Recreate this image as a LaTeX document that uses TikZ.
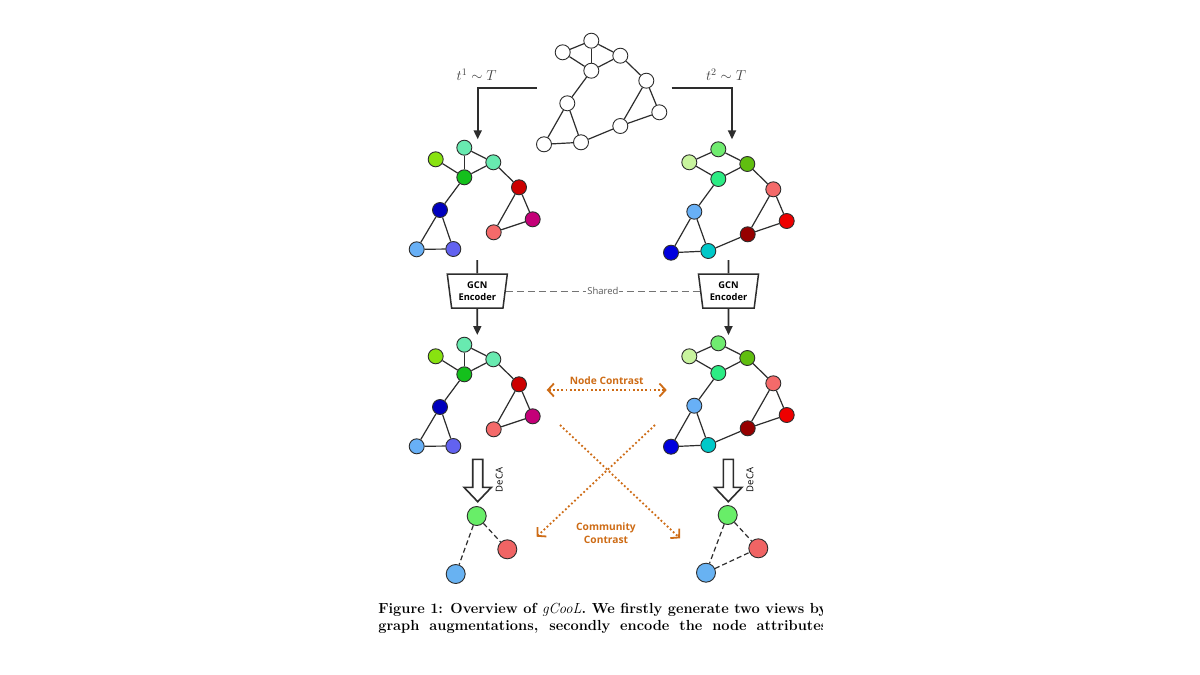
\documentclass[tikz,border=0pt]{standalone}
\usepackage{fontspec}
\setsansfont{Open Sans}
\usetikzlibrary{arrows.meta,shapes.geometric}

% node colours of the two views
\definecolor{ygreen}{RGB}{136,226,16}
\definecolor{mint}{RGB}{104,234,176}
\definecolor{leaf}{RGB}{20,192,28}
\definecolor{crimson}{RGB}{204,0,0}
\definecolor{navy}{RGB}{0,0,190}
\definecolor{berry}{RGB}{196,0,120}
\definecolor{salmon}{RGB}{244,106,106}
\definecolor{sky}{RGB}{104,176,246}
\definecolor{slate}{RGB}{98,98,240}
\definecolor{pale}{RGB}{200,244,158}
\definecolor{lgreen}{RGB}{112,236,112}
\definecolor{olive}{RGB}{96,190,16}
\definecolor{spring}{RGB}{44,236,132}
\definecolor{scarlet}{RGB}{238,0,0}
\definecolor{maroon}{RGB}{150,0,0}
\definecolor{royal}{RGB}{0,0,222}
\definecolor{teal}{RGB}{0,200,200}
% community nodes
\definecolor{cgreen}{RGB}{104,238,104}
\definecolor{cred}{RGB}{240,100,100}
\definecolor{cblue}{RGB}{104,178,242}
% lines and labels
\definecolor{ink}{RGB}{45,45,45}
\definecolor{contrast}{RGB}{206,108,22}

\tikzset{
  vtx/.style={circle, draw=ink, line width=0.9pt, minimum size=15pt, inner sep=0pt},
  cvtx/.style={vtx, minimum size=19pt},
  gedge/.style={draw=ink, line width=1.2pt},
  cedge/.style={draw=ink, line width=1.2pt, dash pattern=on 5pt off 3pt},
  flow/.style={draw=ink, line width=1.8pt, -{Triangle[width=8pt,length=9pt]}},
  encoder/.style={draw=ink, line width=1.5pt, trapezium, shape border rotate=180,
    trapezium angle=77, trapezium stretches body, minimum width=60pt,
    minimum height=34pt, inner sep=0pt, align=center,
    font=\sffamily\bfseries\fontsize{9.3}{12}\selectfont},
  deca/.style={draw=ink, line width=1.6pt, fill=white, line join=miter},
  contrastline/.style={draw=contrast, line width=1.8pt, dash pattern=on 1.8pt off 2.4pt},
  ctip/.tip={Straight Barb[length=6pt,width=13pt]},
  contrastlabel/.style={text=contrast, font=\sffamily\bfseries\fontsize{10.2}{12.5}\selectfont},
  tlabel/.style={text=black!75, font=\fontsize{14}{16}\selectfont}
}

\begin{document}
\begin{tikzpicture}[x=1pt, y=-1pt, line width=0.6pt, every node/.style={font=\small}]
  \useasboundingbox (0,0) rectangle (1200,675);
  \fill[white] (0,0) rectangle (1200,675);

  % Input graph (top, uncoloured)
  \foreach \n/\px/\py in {a/562.7/52.3, b/591.3/40.7, c/620.3/55.7, d/591.3/70.7,
      e/646.3/80.7, f/567.3/103.3, g/659.3/112.3, h/620.3/126, i/544/144.3, j/581/142.3}
    \node[vtx, fill=white] (g\n) at (\px,\py) {};
  \foreach \u/\v in {a/b, a/d, b/d, b/c, c/d, c/e, d/f, f/i, f/j, i/j, j/h, h/e, h/g, e/g}
    \draw[gedge] (g\u) -- (g\v);

  % Augmentations t^1 and t^2
  \node[tlabel] (t1) at (476.7,75) {$t^1\sim T$};
  \node[tlabel] (t2) at (726,75) {$t^2\sim T$};
  \coordinate (augL) at (536.7,88.3);
  \coordinate (augR) at (671.7,88.3);
  \coordinate (inL) at (477.7,139.3);
  \coordinate (inR) at (732,139.3);
  \draw[flow] (augL) -| (inL);
  \draw[flow] (augR) -| (inR);

  % Left view, before (row 1) and after (row 2) the encoder
  \foreach \row/\dy in {1/0, 2/197} {
    \foreach \n/\px/\py/\col in {a/435.7/159.3/ygreen, b/464.3/147.7/mint,
        c/493.3/162.3/mint, d/464.3/177.3/leaf, e/519/187.3/crimson,
        f/440/210/navy, g/532.7/219.3/berry, h/493.7/232.3/salmon,
        i/416.7/249.3/sky, j/453.3/249/slate}
      \node[vtx, fill=\col] (l\row\n) at (\px,{\py+\dy}) {};
    \foreach \u/\v in {b/d, b/c, a/d, c/d, c/e, d/f, f/i, f/j, i/j, e/h, e/g, g/h}
      \draw[gedge] (l\row\u) -- (l\row\v);
  }

  % Right view, before (row 1) and after (row 2) the encoder
  \foreach \row/\dy in {1/0, 2/194} {
    \foreach \n/\px/\py/\col in {a/689.3/162.3/pale, b/718.3/149.3/lgreen,
        c/747.3/164/olive, d/718.3/179/spring, e/773.3/189.3/salmon,
        f/694.3/211.7/sky, g/786.7/221/scarlet, h/747.7/234.3/maroon,
        i/671/252.7/royal, j/708.3/251/teal}
      \node[vtx, fill=\col] (r\row\n) at (\px,{\py+\dy}) {};
    \foreach \u/\v in {a/b, a/d, b/c, c/d, c/e, d/f, f/i, f/j, i/j, j/h, h/e, h/g, e/g}
      \draw[gedge] (r\row\u) -- (r\row\v);
  }

  % Shared GCN encoders
  \node[encoder] (encL) at (477.3,291.2) {GCN\\Encoder};
  \node[encoder] (encR) at (728.5,291.2) {GCN\\Encoder};
  \coordinate (viewL) at (477.3,260);
  \coordinate (viewR) at (728.5,260);
  \coordinate (embL) at (477.3,335);
  \coordinate (embR) at (728.5,335);
  \draw[draw=ink, line width=1.8pt] (viewL) -- (encL.north);
  \draw[draw=ink, line width=1.8pt] (viewR) -- (encR.north);
  \draw[flow] (encL.south) -- (embL);
  \draw[flow] (encR.south) -- (embR);
  \draw[draw=black!55, line width=0.9pt, dash pattern=on 7pt off 4pt] (encL.east)
    -- node[fill=white, inner sep=1pt, text=black!65,
            font=\sffamily\fontsize{9.5}{11}\selectfont] (shared) {Shared} (encR.west);

  % Node contrast
  \coordinate (ncL) at (546.7,390);
  \coordinate (ncR) at (666.7,390);
  \draw[contrastline, {ctip}-{ctip}] (ncL)
    -- node[contrastlabel, above=1pt] (nclabel) {Node Contrast} (ncR);

  % Community contrast (crossed)
  \coordinate (ccLs) at (560,425);
  \coordinate (ccRe) at (680,538.3);
  \coordinate (ccRs) at (655,425);
  \coordinate (ccLe) at (536.7,536.7);
  \draw[contrastline, -{ctip}] (ccLs) -- (ccRe);
  \draw[contrastline, -{ctip}] (ccRs) -- (ccLe);
  \node[contrastlabel, align=center] (cclabel) at (606,533) {Community\\Contrast};

  % DeCA hollow arrows
  \foreach \s/\ax in {L/477.7, R/728.3} {
    \draw[deca] ({\ax-5},459.3) -- ({\ax+5},459.3) -- ({\ax+5},487.3)
      -- ({\ax+13.7},487.3) -- (\ax,501.7) -- ({\ax-13.7},487.3)
      -- ({\ax-5},487.3) -- cycle;
    \node[rotate=90, font=\sffamily\fontsize{9.5}{11}\selectfont] (deca\s)
      at ({\ax+21.6},480) {DeCA};
  }

  % Community graphs
  \node[cvtx, fill=cgreen] (cl1) at (476.7,516) {};
  \node[cvtx, fill=cred] (cl2) at (507.3,549.3) {};
  \node[cvtx, fill=cblue] (cl3) at (455.7,574) {};
  \draw[cedge] (cl1) -- (cl2);
  \draw[cedge] (cl1) -- (cl3);
  \node[cvtx, fill=cgreen] (cr1) at (727.7,515) {};
  \node[cvtx, fill=cred] (cr2) at (758.3,548.3) {};
  \node[cvtx, fill=cblue] (cr3) at (706,572.7) {};
  \draw[cedge] (cr1) -- (cr2);
  \draw[cedge] (cr1) -- (cr3);
  \draw[cedge] (cr3) -- (cr2);

  % Caption (cut at the right edge)
  \begin{scope}
    \clip (0,590) rectangle (822,660);
    \node[anchor=base west, inner sep=0pt] (cap1) at (378,613)
      {\fontsize{14.6}{18}\bfseries\selectfont
       \makebox[449pt][s]{Figure 1: Overview of {\mdseries\itshape gCooL}. We firstly generate two views by}};
    \node[anchor=base west, inner sep=0pt] (cap2) at (378,630)
      {\fontsize{14.6}{18}\bfseries\selectfont
       \makebox[449pt][s]{graph augmentations, secondly encode the node attributes}};
  \end{scope}
\end{tikzpicture}
\end{document}
